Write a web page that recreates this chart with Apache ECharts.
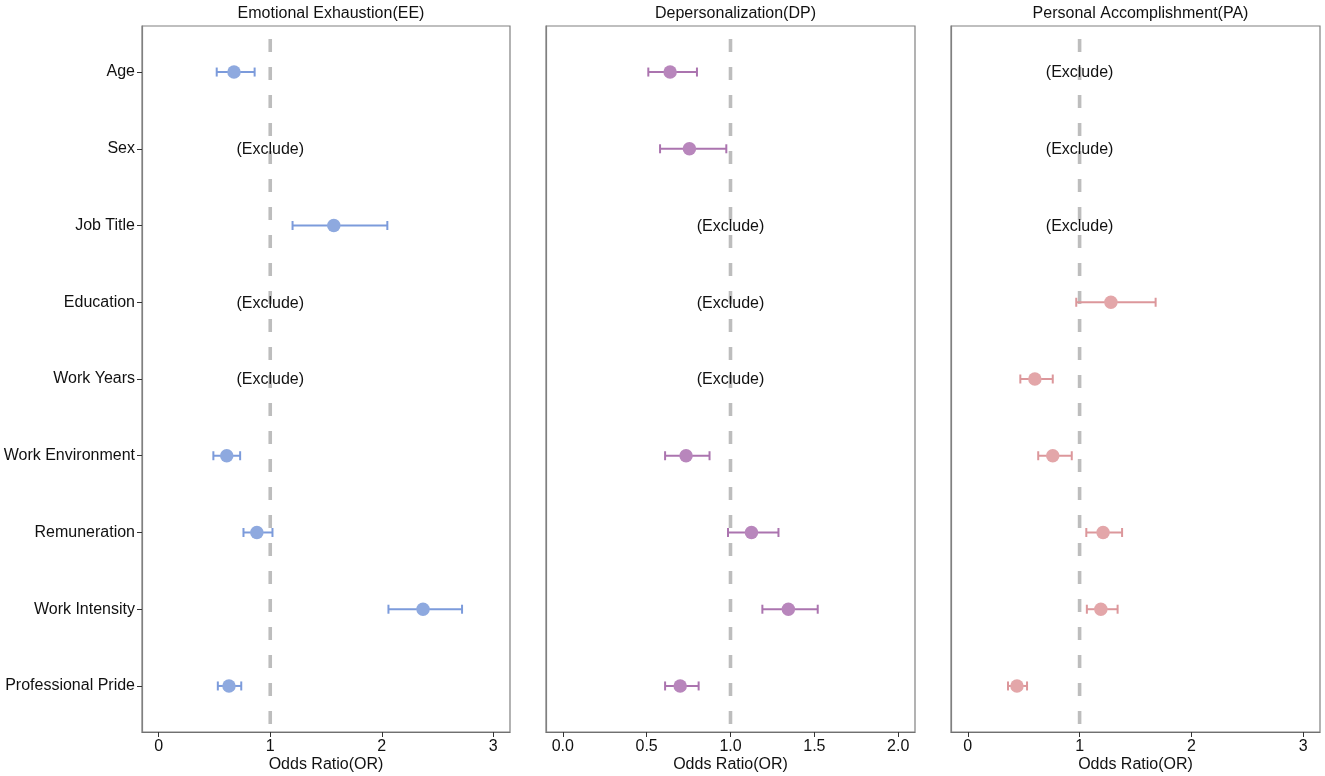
<!DOCTYPE html>
<html>
<head>
<meta charset="utf-8">
<script src="https://cdn.jsdelivr.net/npm/echarts@6/dist/echarts.min.js"></script>
<style>html,body{margin:0;padding:0;background:#fff}#c{width:1325px;height:776px}</style>
</head>
<body>
<div id="c"></div>
<script>
var categories = ['Age','Sex','Job Title','Education','Work Years','Work Environment','Remuneration','Work Intensity','Professional Pride'];
var panelTitles = ['Emotional Exhaustion(EE)','Depersonalization(DP)','Personal Accomplishment(PA)'];
var eeOR = [0.675, null, 1.57, null, null, 0.61, 0.88, 2.37, 0.63];
var eeLo = [0.52, null, 1.20, null, null, 0.49, 0.76, 2.06, 0.53];
var eeHi = [0.86, null, 2.05, null, null, 0.73, 1.02, 2.72, 0.74];
var dpOR = [0.64, 0.755, null, null, null, 0.735, 1.125, 1.345, 0.70];
var dpLo = [0.51, 0.58, null, null, null, 0.61, 0.985, 1.19, 0.61];
var dpHi = [0.80, 0.975, null, null, null, 0.875, 1.286, 1.52, 0.81];
var paOR = [null, null, null, 1.28, 0.60, 0.76, 1.21, 1.19, 0.44];
var paLo = [null, null, null, 0.97, 0.47, 0.63, 1.06, 1.065, 0.36];
var paHi = [null, null, null, 1.68, 0.76, 0.93, 1.38, 1.34, 0.53];
var eeTicks = [0, 1, 2, 3];
var dpTicks = [0, 0.5, 1, 1.5, 2];
var paTicks = [0, 1, 2, 3];
var excludeLabel = '(Exclude)';
var refValue = 1;

var FONT = '"Liberation Sans", Arial, sans-serif';
var FS = 16;
var panels = [
  {or: eeOR, lo: eeLo, hi: eeHi, ticks: eeTicks, min: -0.15, max: 3.15, dec: 0, left: 142, right: 1325-510, pt: '#8EA9DF', ln: '#7C9BDB'},
  {or: dpOR, lo: dpLo, hi: dpHi, ticks: dpTicks, min: -0.1, max: 2.1, dec: 1, left: 546, right: 1325-915, pt: '#B886BC', ln: '#AB74AF'},
  {or: paOR, lo: paLo, hi: paHi, ticks: paTicks, min: -0.15, max: 3.15, dec: 0, left: 951, right: 1325-1320, pt: '#E3A6A9', ln: '#DC979B'}
];
var yIdx = categories.map(function(_, i){ return i; });

var grids = [], xAxes = [], yAxes = [], series = [], titles = [];
panels.forEach(function(p, k){
  grids.push({left: p.left, right: p.right, top: 26, bottom: 776-732, show: true, borderColor: '#808080', borderWidth: 1.2, backgroundColor: '#fff', containLabel: false, outerBoundsMode: 'none'});
  var w = 1325 - p.left - p.right;
  titles.push({text: panelTitles[k], left: p.left + w/2, top: 1, textAlign: 'center',
    textStyle: {fontFamily: FONT, fontSize: FS, fontWeight: 'normal', color: '#111'}});
  xAxes.push({
    type: 'value', gridIndex: k, min: p.min, max: p.max,
    name: 'Odds Ratio(OR)', nameLocation: 'middle', nameGap: 25, nameMoveOverlap: false,
    nameTextStyle: {fontFamily: FONT, fontSize: FS, color: '#111'},
    axisLine: {show: true, onZero: false, lineStyle: {color: '#707070', width: 1.2}},
    axisTick: {show: true, length: 5, customValues: p.ticks, lineStyle: {color: '#333'}},
    axisLabel: {customValues: p.ticks, margin: 7, fontFamily: FONT, fontSize: FS, color: '#111',
      formatter: (function(d){ return function(v){ return v.toFixed(d); }; })(p.dec)},
    splitLine: {show: false}
  });
  yAxes.push({
    type: 'value', gridIndex: k, min: -0.6, max: 8.6, inverse: true,
    axisLine: {show: true, onZero: false, lineStyle: {color: '#808080', width: 1.2}},
    axisTick: {show: k === 0, length: 5, customValues: yIdx, lineStyle: {color: '#333'}},
    axisLabel: {show: k === 0, customValues: yIdx, margin: 7, fontFamily: FONT, fontSize: FS, color: '#111',
      formatter: function(v){ return categories[Math.round(v)]; }},
    splitLine: {show: false}
  });
  series.push({
    type: 'line', xAxisIndex: k, yAxisIndex: k, symbol: 'none', silent: true, z: 1,
    data: [[refValue, -0.6], [refValue, 8.6]],
    lineStyle: {color: '#BDBDBD', width: 3.6, type: [13, 15], dashOffset: 15}
  });
  var bars = [], pts = [], excl = [];
  categories.forEach(function(c, i){
    if (p.or[i] == null) { excl.push([refValue, i]); }
    else { bars.push([p.lo[i], p.hi[i], i]); pts.push([p.or[i], i]); }
  });
  series.push({
    type: 'custom', xAxisIndex: k, yAxisIndex: k, z: 3, silent: true,
    encode: {x: [0, 1], y: 2},
    data: bars,
    renderItem: (function(col){ return function(params, api){
      var a = api.coord([api.value(0), api.value(2)]);
      var b = api.coord([api.value(1), api.value(2)]);
      var h = 4.5;
      var st = {stroke: col, lineWidth: 2};
      return {type: 'group', children: [
        {type: 'line', shape: {x1: a[0], y1: a[1], x2: b[0], y2: b[1]}, style: st},
        {type: 'line', shape: {x1: a[0], y1: a[1]-h, x2: a[0], y2: a[1]+h}, style: st},
        {type: 'line', shape: {x1: b[0], y1: b[1]-h, x2: b[0], y2: b[1]+h}, style: st}
      ]};
    }; })(p.ln)
  });
  series.push({
    type: 'scatter', xAxisIndex: k, yAxisIndex: k, z: 4, silent: true,
    symbolSize: 13.5, itemStyle: {color: p.pt, opacity: 1}, data: pts
  });
  series.push({
    type: 'custom', xAxisIndex: k, yAxisIndex: k, z: 5, silent: true,
    encode: {x: 0, y: 1},
    data: excl,
    renderItem: function(params, api){
      var c = api.coord([api.value(0), api.value(1)]);
      return {type: 'text', x: c[0], y: c[1] + 1, style: {text: excludeLabel, fill: '#111',
        font: FS + 'px ' + FONT, align: 'center', verticalAlign: 'middle'}};
    }
  });
});

var chart = echarts.init(document.getElementById('c'), null, {renderer: 'canvas'});
chart.setOption({
  animation: false,
  backgroundColor: '#fff',
  title: titles,
  grid: grids,
  xAxis: xAxes,
  yAxis: yAxes,
  series: series
});
</script>
</body>
</html>
